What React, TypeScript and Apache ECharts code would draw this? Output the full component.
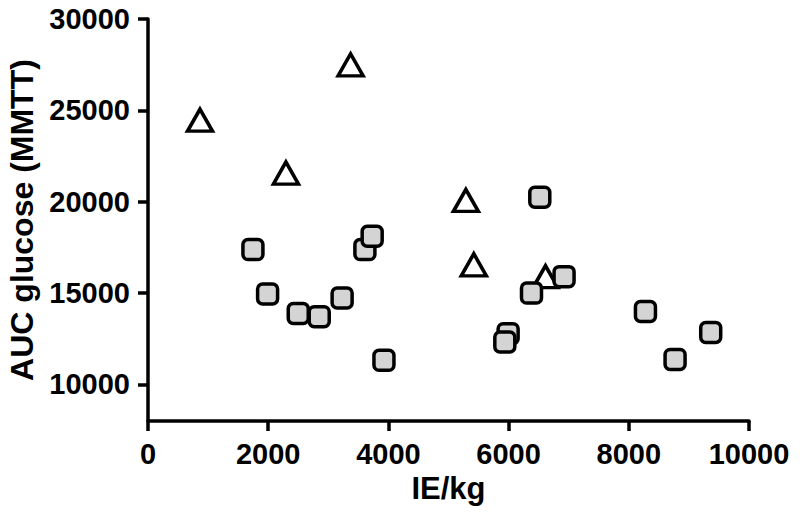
import React, { useEffect, useRef } from "react";
import * as echarts from "echarts";

const triangleX = [865, 2295, 3371, 5289, 5421, 6614];
const triangleY = [24460, 21570, 27490, 20070, 16550, 15900];

const squareX = [1746, 1990, 2500, 2849, 3230, 3609, 3730, 3926, 5992, 5937, 6381, 6519, 6923, 8277, 8770, 9363];
const squareY = [17380, 14950, 13880, 13710, 14730, 17380, 18110, 11320, 12780, 12320, 15000, 20250, 15900, 13990, 11370, 12840];

const yTickValues = [10000, 15000, 20000, 25000, 30000];
const xTickValues = [0, 2000, 4000, 6000, 8000, 10000];

const xTitle = "IE/kg";
const yTitle = "AUC glucose (MMTT)";

export default function App() {
  const ref = useRef<HTMLDivElement>(null);
  useEffect(() => {
    if (!ref.current) return;
    const chart = echarts.init(ref.current, null, { renderer: "svg" });
    const font = "'Liberation Sans', Arial, Helvetica, sans-serif";
    chart.setOption({
      animation: false,
      backgroundColor: "#ffffff",
      grid: { left: 148, right: 51, top: 19, bottom: 104, containLabel: false, outerBoundsMode: "none" },
      xAxis: {
        type: "value",
        min: 0,
        max: 10000,
        interval: 2000,
        name: xTitle,
        nameLocation: "middle",
        nameGap: 50,
        nameTextStyle: { fontFamily: font, fontWeight: "bold", fontSize: 31, color: "#000" },
        axisLine: { show: true, onZero: false, lineStyle: { color: "#000", width: 3.5 } },
        axisTick: { show: true, length: 10, lineStyle: { color: "#000", width: 3.5 }, customValues: xTickValues },
        axisLabel: {
          margin: 18, fontFamily: font, fontWeight: "bold", fontSize: 29, color: "#000",
          customValues: xTickValues, formatter: (v: number) => String(v),
        },
        splitLine: { show: false },
      },
      yAxis: {
        type: "value",
        min: 8000,
        max: 30000,
        name: yTitle,
        nameLocation: "middle",
        nameRotate: 90,
        nameGap: 106,
        nameTextStyle: { fontFamily: font, fontWeight: "bold", fontSize: 32, color: "#000" },
        axisLine: { show: true, onZero: false, lineStyle: { color: "#000", width: 3.5 } },
        axisTick: { show: true, length: 10, lineStyle: { color: "#000", width: 3.5 }, customValues: yTickValues },
        axisLabel: {
          margin: 18, fontFamily: font, fontWeight: "bold", fontSize: 29, color: "#000",
          customValues: yTickValues, formatter: (v: number) => String(v),
        },
        splitLine: { show: false },
      },
      series: [
        {
          type: "scatter",
          name: "triangles",
          symbol: "triangle",
          symbolSize: [25, 22],
          itemStyle: { color: "#ffffff", borderColor: "#000", borderWidth: 3.5, opacity: 1 },
          data: triangleX.map((x, i) => [x, triangleY[i]]),
          z: 2,
        },
        {
          type: "scatter",
          name: "squares",
          symbol: "roundRect",
          symbolSize: 20,
          itemStyle: { color: "#d4d4d4", borderColor: "#000", borderWidth: 3.5, opacity: 1 },
          data: squareX.map((x, i) => [x, squareY[i]]),
          z: 3,
        },
      ],
    });
    return () => chart.dispose();
  }, []);
  return <div ref={ref} style={{ position: "fixed", left: 0, top: 0, width: 800, height: 525 }} />;
}
